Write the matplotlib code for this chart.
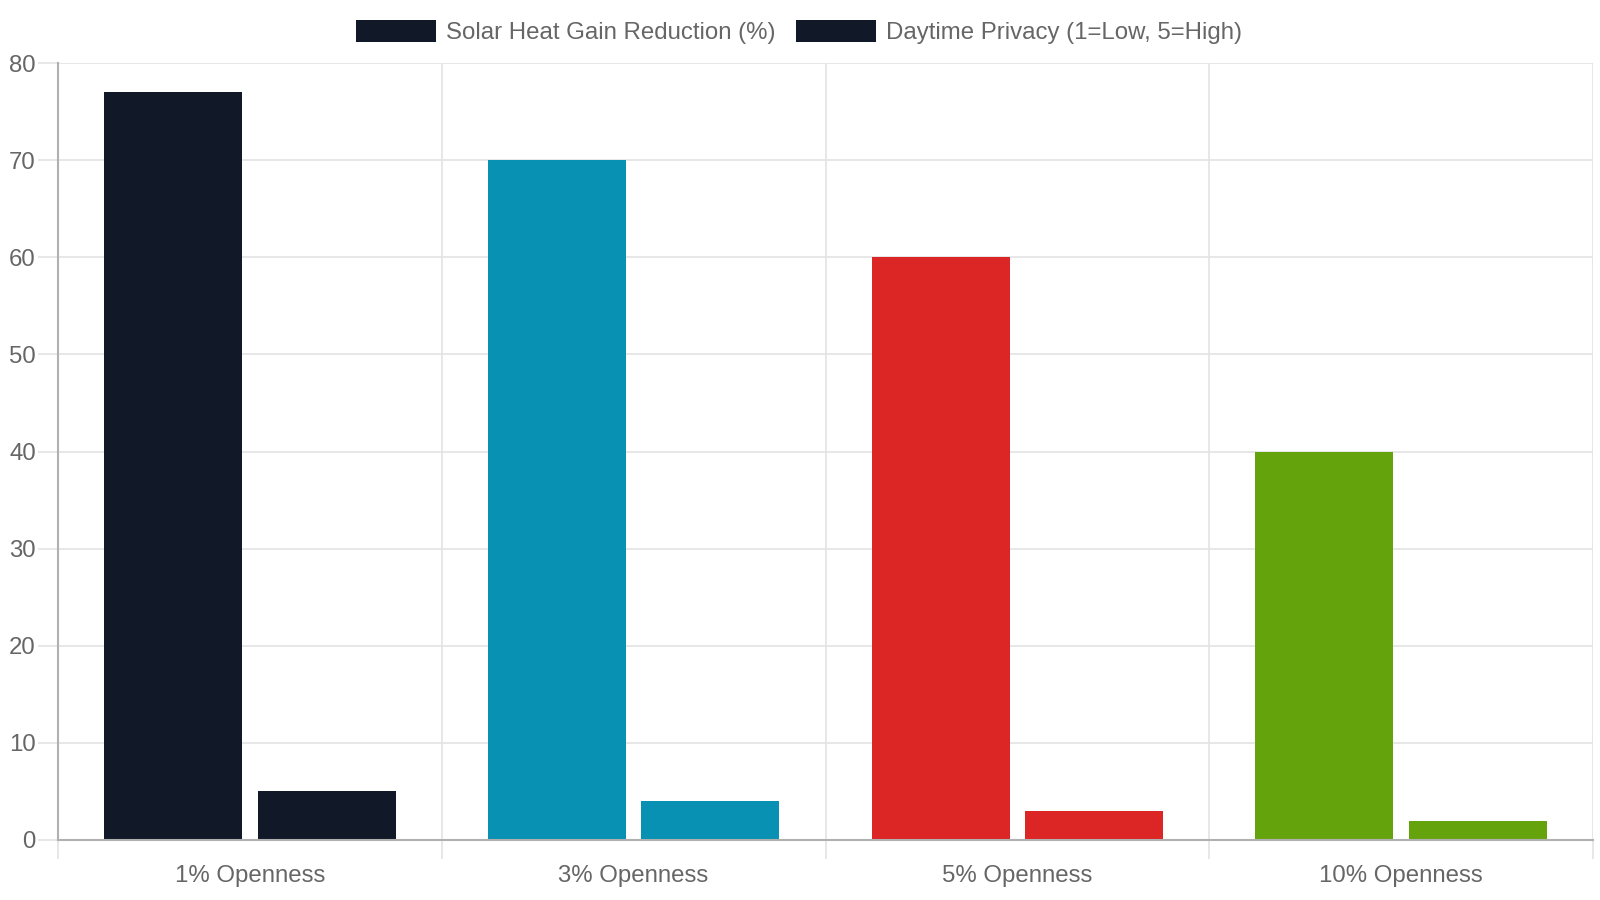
import numpy as np
import matplotlib.pyplot as plt
from matplotlib.patches import Patch

plt.rcParams['font.family'] = ['Liberation Sans', 'DejaVu Sans']

# data
categories = ['1% Openness', '3% Openness', '5% Openness', '10% Openness']
solar_gain = [77, 70, 60, 40]
privacy = [5, 4, 3, 2]
series_names = ['Solar Heat Gain Reduction (%)', 'Daytime Privacy (1=Low, 5=High)']
bar_colors = ['#111827', '#0891b2', '#dc2626', '#65a30d']

text_color = '#666666'
grid_color = '#e3e3e3'
axis_color = '#b0b0b0'
fs = 17.3

fig = plt.figure(figsize=(16, 9), dpi=100)
ax = fig.add_axes([58 / 1600, 60 / 900, 1535 / 1600, 777 / 900])

x = np.arange(len(categories))
slot = 0.8 / 2
bw = slot * 0.9
ax.bar(x - slot / 2, solar_gain, width=bw, color=bar_colors, zorder=3)
ax.bar(x + slot / 2, privacy, width=bw, color=bar_colors, zorder=3)

ax.set_xlim(-0.5, len(categories) - 0.5)
ax.set_ylim(0, 80)
ax.set_yticks(np.arange(0, 81, 10))
ax.set_xticks(x)
ax.set_xticklabels(categories)
ax.set_xticks(np.arange(-0.5, len(categories), 1), minor=True)

ax.grid(axis='y', which='major', color=grid_color, linewidth=1.2, zorder=0)
ax.grid(axis='x', which='minor', color=grid_color, linewidth=1.2, zorder=0)

ax.tick_params(axis='y', length=14.4, width=1.2, color=grid_color, pad=1.5,
               labelsize=fs, labelcolor=text_color)
ax.tick_params(axis='x', which='major', length=0, pad=18,
               labelsize=fs, labelcolor=text_color)
ax.tick_params(axis='x', which='minor', length=13.7, width=1.2, color=grid_color)

for side in ['top', 'right']:
    ax.spines[side].set_visible(False)
for side in ['left', 'bottom']:
    ax.spines[side].set_color(axis_color)
    ax.spines[side].set_linewidth(1.5)
    ax.spines[side].set_zorder(4)

handles = [Patch(facecolor=bar_colors[0], edgecolor='none') for _ in series_names]
fig.legend(handles, series_names, loc='center', bbox_to_anchor=(799 / 1600, 1 - 32 / 900),
           ncol=2, frameon=False, fontsize=fs, labelcolor=text_color,
           handlelength=3.33, handleheight=1.0, handletextpad=0.42, columnspacing=0.83)

fig.savefig('out.png', dpi=100, facecolor='white')
